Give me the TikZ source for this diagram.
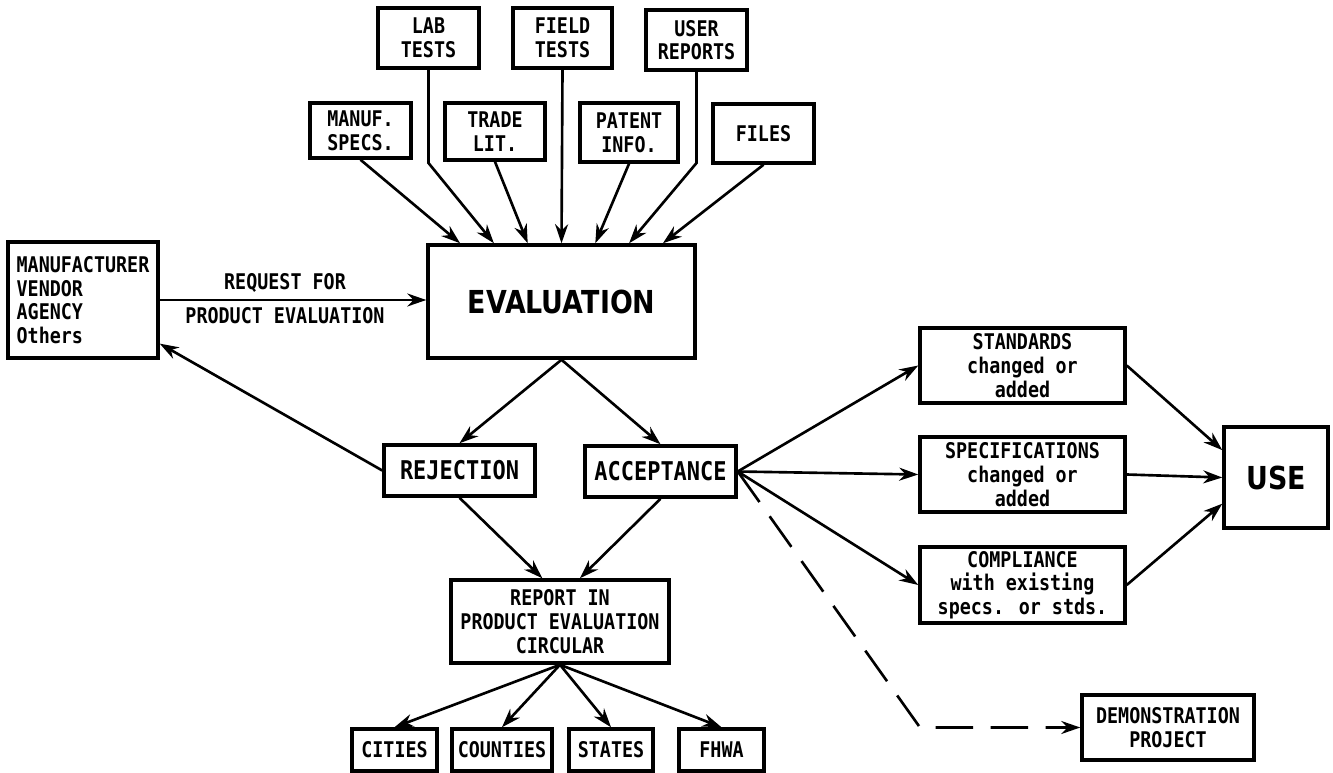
\documentclass[tikz,border=0pt]{standalone}
\usepackage{fontspec}
\usetikzlibrary{arrows.meta,calc}
\newfontfamily\boxfont[FakeStretch=0.85]{DejaVu Sans Mono}
\newfontfamily\headfont[FakeStretch=0.85]{DejaVu Sans}

\begin{document}
\begin{tikzpicture}[x=0.02cm, y=-0.02cm,
    font=\boxfont\bfseries\fontsize{12.3}{13.5}\selectfont]
\tikzset{
  box/.style={draw, line width=2pt, inner sep=2pt, align=center},
  bigbox/.style={box, font=\boxfont\bfseries\fontsize{14.7}{16}\selectfont},
  headbox/.style={box, font=\headfont\bfseries\fontsize{18}{20}\selectfont},
  arr/.style={-{Stealth[length=0.38cm, width=0.26cm]}, line width=1.5pt},
  dasharr/.style={arr, dash pattern=on 0.75cm off 0.35cm},
}
\useasboundingbox (0,0) rectangle (1333,773);

% sources of information
\node[box, minimum width=2.02cm, minimum height=1.2cm] (lab) at (428.5,38) {LAB\\TESTS};
\node[box, minimum width=1.98cm, minimum height=1.2cm] (field) at (562.5,38) {FIELD\\TESTS};
\node[box, minimum width=2.02cm, minimum height=1.2cm] (user) at (696.5,40) {USER\\REPORTS};
\node[box, minimum width=2.02cm, minimum height=1.1cm] (manuf) at (360.5,130.5) {MANUF.\\SPECS.};
\node[box, minimum width=2cm, minimum height=1.14cm] (trade) at (495,131.5) {TRADE\\LIT.};
\node[box, minimum width=1.96cm, minimum height=1.18cm] (patent) at (629,132.5) {PATENT\\INFO.};
\node[box, minimum width=2.02cm, minimum height=1.18cm] (files) at (763.5,133.5) {FILES};

\node[headbox, minimum width=5.34cm, minimum height=2.26cm] (eval) at (561.5,301.5) {EVALUATION};
\node[box, align=left, minimum width=3cm, minimum height=2.32cm] (source) at (83,300) {MANUFACTURER\\VENDOR\\AGENCY\\Others};

\node[bigbox, minimum width=3.02cm, minimum height=1.02cm] (rej) at (459.5,470.5) {REJECTION};
\node[bigbox, minimum width=3.02cm, minimum height=1.02cm] (acc) at (660.5,471.5) {ACCEPTANCE};

% report and its readers
\node[box, minimum width=4.36cm, minimum height=1.66cm] (report) at (560,621.5) {REPORT IN\\PRODUCT EVALUATION\\CIRCULAR};
\node[box, minimum width=1.7cm, minimum height=0.84cm] (cities) at (394.5,750) {CITIES};
\node[box, minimum width=2cm, minimum height=0.84cm] (counties) at (502,750) {COUNTIES};
\node[box, minimum width=1.68cm, minimum height=0.84cm] (states) at (611,750) {STATES};
\node[box, minimum width=1.7cm, minimum height=0.84cm] (fhwa) at (721.5,750) {FHWA};

% outcomes of acceptance
\node[box, minimum width=4.1cm, minimum height=1.5cm] (stand) at (1022.5,365.5) {STANDARDS\\changed or\\added};
\node[box, minimum width=4.1cm, minimum height=1.5cm] (specs) at (1022.5,474.5) {SPECIFICATIONS\\changed or\\added};
\node[box, minimum width=4.1cm, minimum height=1.52cm] (compl) at (1022.5,585) {COMPLIANCE\\with existing\\specs. or stds.};
\node[headbox, minimum width=2.08cm, minimum height=2.02cm] (use) at (1276,477.5) {USE};
\node[box, minimum width=3.44cm, minimum height=1.3cm] (demo) at (1168,727.5) {DEMONSTRATION\\PROJECT};

\coordinate (labbend) at (428.5,163);
\coordinate (userbend) at (696.5,163);
\coordinate (demobend) at (920,727.5);

\foreach \from/\f in {manuf/0.125, trade/0.375, field/0.5, patent/0.625, files/0.875}
  \draw[arr] (\from.south) -- ($(eval.north west)!\f!(eval.north east)$);
\draw[arr] (lab.south) -- (labbend) -- ($(eval.north west)!0.25!(eval.north east)$);
\draw[arr] (user.south) -- (userbend) -- ($(eval.north west)!0.75!(eval.north east)$);

\draw[arr] (source.east) -- (source.east -| eval.west)
  node[pos=0.47, above] {REQUEST FOR}
  node[pos=0.47, below] {PRODUCT EVALUATION};

\draw[arr] (eval.south) -- (rej.north);
\draw[arr] (eval.south) -- (acc.north);
\draw[arr] (rej.west) -- (source);
\draw[arr] (rej.south) -- ($(report.north west)!0.42!(report.north east)$);
\draw[arr] (acc.south) -- ($(report.north west)!0.59!(report.north east)$);
\foreach \to in {cities, counties, states, fhwa}
  \draw[arr] (report.south) -- (\to.north);

\foreach \to in {stand, specs, compl}
  \draw[arr] (acc.east) -- (\to.west);
\draw[arr] (stand.east) -- (use.153);
\draw[arr] (specs.east) -- (use.west);
\draw[arr] (compl.east) -- (use.206);
\draw[dasharr] (acc.east) -- (demobend) -- (demo.west);
\end{tikzpicture}
\end{document}
